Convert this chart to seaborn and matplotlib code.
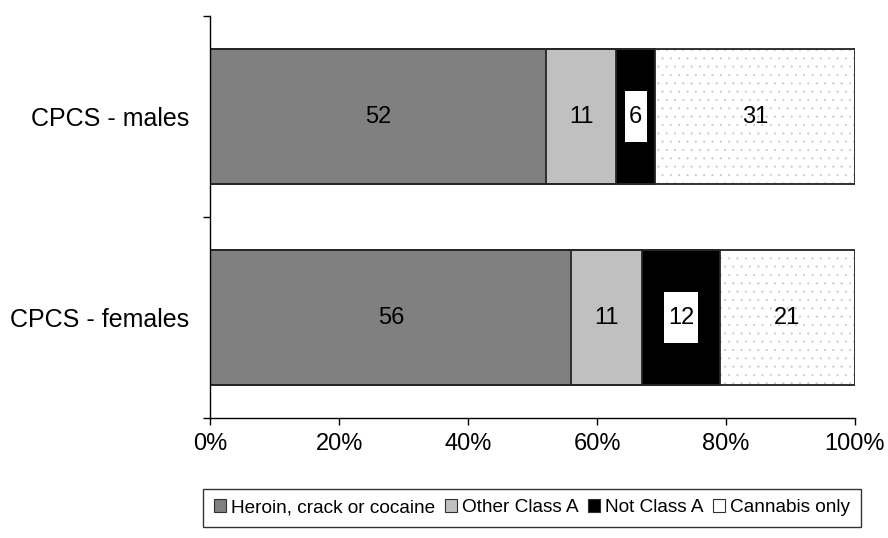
import matplotlib
matplotlib.use("Agg")
import matplotlib.pyplot as plt
import seaborn as sns
import pandas as pd
import numpy as np
from matplotlib.patches import Patch

groups = ["CPCS - males", "CPCS - females"]
series = ["Heroin, crack or cocaine", "Other Class A", "Not Class A", "Cannabis only"]
heroin = [52, 56]
other_a = [11, 11]
not_a = [6, 12]
cannabis = [31, 21]
x_ticks = [0, 20, 40, 60, 80, 100]
x_tick_labels = ["0%", "20%", "40%", "60%", "80%", "100%"]

colors = ["#808080", "#c0c0c0", "#000000", "#ffffff"]
hatches = [None, None, None, ".."]
dot_color = "#c8c8c8"
edge_color = "#262626"

sns.set_theme(style="white")
plt.rcParams["font.family"] = ["Liberation Sans", "DejaVu Sans"]
plt.rcParams["text.color"] = "black"
plt.rcParams["xtick.labelcolor"] = "black"
plt.rcParams["ytick.labelcolor"] = "black"
plt.rcParams["hatch.linewidth"] = 0.3

fig = plt.figure(figsize=(8.88, 5.38), dpi=100)
ax = fig.add_axes([0.2370, 0.2230, 0.7258, 0.7472])

values = [heroin, other_a, not_a, cannabis]
cum = np.cumsum(np.array(values), axis=0)

# draw cumulative bars from the widest down so each segment stays visible;
# the stippled layer takes its dot colour from its edge colour
for i in range(len(series) - 1, -1, -1):
    df = pd.DataFrame({"group": groups, "value": cum[i]})
    ec = dot_color if hatches[i] else edge_color
    sns.barplot(data=df, x="value", y="group", orient="h", ax=ax,
                color=colors[i], width=0.67, edgecolor=ec,
                linewidth=1.3, hatch=hatches[i], saturation=1)

# dark outline around each full bar
df_total = pd.DataFrame({"group": groups, "value": cum[-1]})
sns.barplot(data=df_total, x="value", y="group", orient="h", ax=ax,
            fill=False, width=0.67, edgecolor=edge_color, linewidth=1.3)

# segment value labels
label_size = 17
for i, vals in enumerate(values):
    for j, v in enumerate(vals):
        left = cum[i][j] - v
        cx = left + v / 2
        if i == 2:
            ax.text(cx, j, f"\n{v}\n", ha="center", va="center", fontsize=label_size,
                    color="black", linespacing=0.33, zorder=5,
                    bbox=dict(boxstyle="square,pad=0.18", fc="white", ec="none"))
        else:
            ax.text(cx, j, str(v), ha="center", va="center", fontsize=label_size,
                    color="black", zorder=5)

ax.set_xlim(0, 100)
ax.set_ylim(1.5, -0.5)
ax.set_xticks(x_ticks)
ax.set_xticklabels(x_tick_labels, fontsize=17)
ax.set_yticks([0, 1])
ax.set_yticklabels(groups, fontsize=18)
ax.set_yticks([-0.5, 0.5, 1.5], minor=True)
ax.tick_params(axis="y", which="major", length=0, pad=15)
ax.tick_params(axis="y", which="minor", length=5, width=1, color="black", direction="out", left=True)
ax.tick_params(axis="x", length=5, width=1, color="black", direction="out", bottom=True, pad=6)
ax.set_xlabel("")
ax.set_ylabel("")
for s in ["top", "right"]:
    ax.spines[s].set_visible(False)
for s in ["left", "bottom"]:
    ax.spines[s].set_color("black")
    ax.spines[s].set_linewidth(1.0)

handles = [Patch(facecolor=colors[k], edgecolor="#303030", linewidth=0.8)
           for k in range(len(series))]
leg = fig.legend(handles, series, loc="center", bbox_to_anchor=(0.599, 0.0558),
                 ncol=4, frameon=True, fontsize=13.7, handlelength=0.65, handleheight=0.65,
                 handletextpad=0.25, columnspacing=0.5, borderpad=0.55, fancybox=False)
leg.get_frame().set_edgecolor("black")
leg.get_frame().set_linewidth(1.0)

fig.savefig("out.png", dpi=100)
